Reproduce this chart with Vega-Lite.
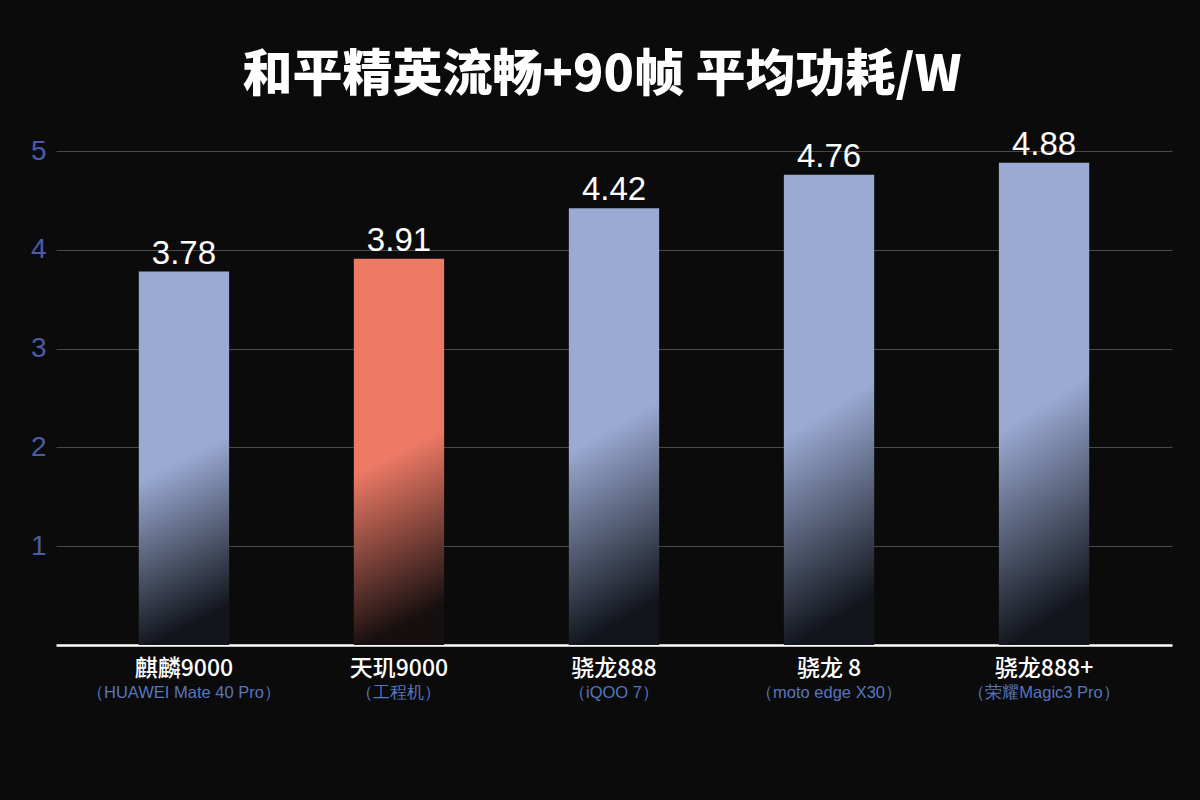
{
  "$schema": "https://vega.github.io/schema/vega-lite/v6.json",
  "width": 1116,
  "height": 494,
  "autosize": {"type": "none"},
  "padding": {"left": 56, "top": 151, "right": 28, "bottom": 155},
  "background": "#0b0b0b",
  "config": {"view": {"stroke": null}},
  "title": {
    "text": "和平精英流畅+90帧 平均功耗/W",
    "font": "Noto Sans CJK SC",
    "fontSize": 50,
    "fontWeight": 900,
    "color": "#ffffff",
    "anchor": "middle",
    "frame": "group",
    "offset": 28,
    "dx": -12
  },
  "data": {
    "values": [
      {"chip": "麒麟9000", "device": "（HUAWEI Mate 40 Pro）", "value": 3.78, "highlight": false},
      {"chip": "天玑9000", "device": "（工程机）", "value": 3.91, "highlight": true},
      {"chip": "骁龙888", "device": "（iQOO 7）", "value": 4.42, "highlight": false},
      {"chip": "骁龙 8", "device": "（moto edge X30）", "value": 4.76, "highlight": false},
      {"chip": "骁龙888+", "device": "（荣耀Magic3 Pro）", "value": 4.88, "highlight": false}
    ]
  },
  "encoding": {
    "x": {
      "field": "chip",
      "type": "nominal",
      "sort": null,
      "scale": {"paddingInner": 0.58, "paddingOuter": 0.385},
      "axis": {
        "title": null,
        "labelAngle": 0,
        "labelFont": "Noto Sans CJK SC",
        "labelFontSize": 23,
        "labelFontWeight": 500,
        "labelColor": "#ffffff",
        "labelPadding": 12,
        "ticks": false,
        "domainColor": "#ffffff",
        "domainWidth": 2.5,
        "grid": false
      }
    }
  },
  "layer": [
    {
      "mark": {"type": "bar", "clip": false},
      "encoding": {
        "y": {
          "field": "value",
          "type": "quantitative",
          "scale": {"domain": [0, 5], "nice": false},
          "axis": {
            "title": null,
            "values": [1, 2, 3, 4, 5],
            "format": "d",
            "labelFont": "Liberation Sans",
            "labelFontSize": 28,
            "labelColor": "#4b5ba8",
            "labelPadding": 10,
            "ticks": false,
            "domain": false,
            "gridColor": "#4a4a4a",
            "gridWidth": 1
          }
        },
        "color": {
          "condition": {
            "test": "datum.highlight",
            "value": {
              "gradient": "linear",
              "x1": 0, "y1": 0, "x2": 0.12, "y2": 1,
              "stops": [
                {"offset": 0, "color": "#ee7a66"},
                {"offset": 0.55, "color": "#ee7a66"},
                {"offset": 1, "color": "#160f0f"}
              ]
            }
          },
          "value": {
            "gradient": "linear",
            "x1": 0, "y1": 0, "x2": 0.12, "y2": 1,
            "stops": [
              {"offset": 0, "color": "#9aaad2"},
              {"offset": 0.55, "color": "#9aaad2"},
              {"offset": 1, "color": "#12151c"}
            ]
          }
        }
      }
    },
    {
      "mark": {"type": "text", "baseline": "bottom", "dy": -1, "font": "Liberation Sans", "fontSize": 33, "color": "#ffffff", "clip": false},
      "encoding": {
        "y": {"field": "value", "type": "quantitative"},
        "text": {"field": "value", "type": "quantitative", "format": ".2f"}
      }
    },
    {
      "mark": {"type": "text", "baseline": "middle", "dy": 48, "font": "Liberation Sans", "fontSize": 16.5, "color": "#5876bd", "clip": false},
      "encoding": {
        "y": {"datum": 0},
        "text": {"field": "device", "type": "nominal"}
      }
    }
  ]
}
